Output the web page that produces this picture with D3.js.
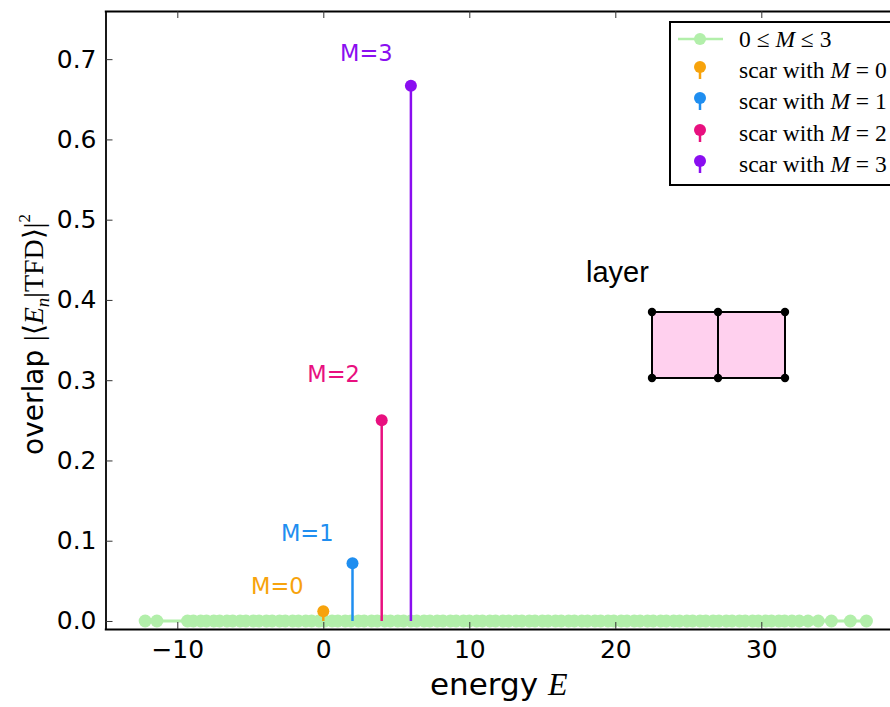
<!DOCTYPE html>
<html><head><meta charset="utf-8">
<script src="https://cdn.jsdelivr.net/npm/d3@7"></script>
<style>body{margin:0;background:#fff}svg{display:block}</style>
</head><body>
<svg id="c" width="890" height="707"></svg>
<script>
// ---- data ----
const spectrumE = [-12.2, -11.4, -9.3, -8.9, -8.4, -8.0, -7.5, -7.1, -6.6, -6.2, -5.7, -5.3, -4.8, -4.4, -3.9, -3.5, -3.0, -2.6, -2.1, -1.7, -1.2, -0.8, -0.3, 0.1, 0.6, 1.0, 1.5, 1.9, 2.4, 2.8, 3.3, 3.7, 4.2, 4.6, 5.1, 5.5, 6.0, 6.4, 6.9, 7.3, 7.8, 8.2, 8.7, 9.1, 9.6, 10.0, 10.5, 10.9, 11.4, 11.8, 12.3, 12.7, 13.2, 13.6, 14.1, 14.5, 15.0, 15.4, 15.9, 16.3, 16.8, 17.2, 17.7, 18.1, 18.6, 19.0, 19.5, 19.9, 20.4, 20.8, 21.3, 21.7, 22.2, 22.6, 23.1, 23.5, 24.0, 24.4, 24.9, 25.3, 25.8, 26.2, 26.7, 27.1, 27.6, 28.0, 28.5, 28.9, 29.4, 29.8, 30.3, 30.7, 31.2, 31.6, 32.1, 32.6, 33.2, 33.9, 34.8, 36.1, 37.2];
const spectrumOverlap = spectrumE.map(() => 0.0);
const scarM = [0, 1, 2, 3];
const scarE = [0, 2, 4, 6];
const scarOverlap = [0.012, 0.072, 0.25, 0.667];
const scarLabels = ["M=0", "M=1", "M=2", "M=3"];
const labelE = [-3.15, -1.1, 0.7, 2.95];
const labelOverlap = [0.0435, 0.109, 0.308, 0.708];
const xTicks = [-10, 0, 10, 20, 30];
const yTicks = [0.0, 0.1, 0.2, 0.3, 0.4, 0.5, 0.6, 0.7];

// ---- styles ----
const scarColors = ["#f7a30c", "#1f8ef0", "#e8107f", "#8a0ef0"];
const green = "#b2efaa";
const svg = d3.select("#c");
const L = 105.5, T = 11, B = 629, R = 907;
const x = d3.scaleLinear().domain([-15, 40]).range([104.3, 907.3]);
const y = d3.scaleLinear().domain([-0.01, 0.76]).range([B, T]);

// spectrum line + markers
const pts = spectrumE.map((e, i) => [e, spectrumOverlap[i]]);
svg.append("path").datum(pts)
  .attr("d", d3.line().x(d => x(d[0])).y(d => y(d[1])))
  .attr("fill", "none").attr("stroke", green).attr("stroke-width", 3);
svg.append("g").selectAll("circle").data(pts).join("circle")
  .attr("cx", d => x(d[0])).attr("cy", d => y(d[1])).attr("r", 6.5)
  .attr("fill", green);

// stems
const sg = svg.append("g");
scarM.forEach((m, i) => {
  sg.append("line").attr("x1", x(scarE[i])).attr("x2", x(scarE[i]))
    .attr("y1", y(0)).attr("y2", y(scarOverlap[i]))
    .attr("stroke", scarColors[i]).attr("stroke-width", 2.5);
  sg.append("circle").attr("cx", x(scarE[i])).attr("cy", y(scarOverlap[i])).attr("r", 6)
    .attr("fill", scarColors[i]);
});
// annotation labels
scarM.forEach((m, i) => {
  svg.append("text")
    .attr("x", x(labelE[i])).attr("y", y(labelOverlap[i]))
    .attr("text-anchor", "middle").attr("dominant-baseline", "central")
    .attr("font-family", "DejaVu Sans").attr("font-size", 22.5)
    .attr("fill", scarColors[i]).text(scarLabels[i]);
});

// axes
const fontAxis = g => g.selectAll("text").attr("font-family", "DejaVu Sans").attr("font-size", 25).attr("fill", "#000");
const tickStyle = g => g.selectAll(".tick line").attr("stroke", "#333").attr("stroke-width", 1);
svg.append("g").attr("transform", `translate(0,${B})`)
  .call(d3.axisBottom(x).tickValues(xTicks).tickSizeInner(-7).tickSizeOuter(0).tickPadding(11).tickFormat(d3.format("d")))
  .call(g => g.select(".domain").attr("stroke-width", 1.8))
  .call(tickStyle).call(fontAxis);
svg.append("g").attr("transform", `translate(0,${T})`)
  .call(d3.axisTop(x).tickValues(xTicks).tickSizeInner(-7).tickSizeOuter(0).tickFormat(""))
  .call(g => g.select(".domain").attr("stroke-width", 1.8)).call(tickStyle);
svg.append("g").attr("transform", `translate(${L},0)`)
  .call(d3.axisLeft(y).tickValues(yTicks).tickSizeInner(-7).tickSizeOuter(0).tickPadding(9).tickFormat(d3.format(".1f")))
  .call(g => g.select(".domain").attr("stroke-width", 1.8))
  .call(tickStyle).call(fontAxis);
svg.append("g").attr("transform", `translate(${R},0)`)
  .call(d3.axisRight(y).tickValues(yTicks).tickSizeInner(-7).tickSizeOuter(0).tickFormat(""))
  .call(g => g.select(".domain").attr("stroke-width", 1.8)).call(tickStyle);

// axis labels
const xl = svg.append("text").attr("x", 430).attr("y", 695).attr("text-anchor", "start")
  .attr("font-size", 31).attr("fill", "#000");
xl.append("tspan").attr("font-family", "DejaVu Sans").text("energy ");
xl.append("tspan").attr("font-family", "Liberation Serif").attr("font-style", "italic").attr("font-size", 32).text("E");

const yl = svg.append("text").attr("transform", "translate(43,455) rotate(-90)")
  .attr("text-anchor", "start").attr("font-size", 28).attr("fill", "#000");
yl.append("tspan").attr("font-family", "DejaVu Sans").text("overlap ");
yl.append("tspan").attr("font-family", "Liberation Serif").attr("font-size", 28).text("|⟨");
yl.append("tspan").attr("font-family", "Liberation Serif").attr("font-style", "italic").attr("font-size", 28).text("E");
yl.append("tspan").attr("font-family", "Liberation Serif").attr("font-style", "italic").attr("font-size", 19).attr("dy", 6).text("n");
yl.append("tspan").attr("font-family", "Liberation Serif").attr("font-size", 28).attr("dy", -6).text("|TFD⟩|");
yl.append("tspan").attr("font-family", "Liberation Serif").attr("font-size", 17).attr("dy", -13).text("2");

// layer inset
svg.append("text").attr("x", 586).attr("y", 282).attr("font-family", "Liberation Sans")
  .attr("font-size", 29).attr("fill", "#000").text("layer");
const cellX = [652, 718, 785], cellY = [312, 378];
const ig = svg.append("g");
for (let i = 0; i < 2; i++) {
  ig.append("rect").attr("x", cellX[i]).attr("y", cellY[0]).attr("width", cellX[i+1]-cellX[i]).attr("height", cellY[1]-cellY[0])
    .attr("fill", "#ffd0ee").attr("stroke", "#000").attr("stroke-width", 2);
}
cellX.forEach(cx => cellY.forEach(cy => ig.append("circle").attr("cx", cx).attr("cy", cy).attr("r", 4.2).attr("fill", "#000")));

// legend
const lg = svg.append("g");
lg.append("rect").attr("x", 670).attr("y", 22).attr("width", 240).attr("height", 163)
  .attr("fill", "#fff").attr("stroke", "#000").attr("stroke-width", 2);
const rowY = [39, 70, 101, 133, 164];
lg.append("line").attr("x1", 678).attr("x2", 723).attr("y1", rowY[0]).attr("y2", rowY[0]).attr("stroke", green).attr("stroke-width", 2.5);
lg.append("circle").attr("cx", 700).attr("cy", rowY[0]).attr("r", 6).attr("fill", green);
const t0 = lg.append("text").attr("x", 739).attr("y", rowY[0]).attr("dominant-baseline", "central")
  .attr("font-family", "Liberation Serif").attr("font-size", 23.5).attr("fill", "#000");
t0.append("tspan").text("0 ≤ ");
t0.append("tspan").attr("font-style", "italic").text("M");
t0.append("tspan").text(" ≤ 3");
scarM.forEach((m, i) => {
  const yy = rowY[i + 1];
  lg.append("line").attr("x1", 700).attr("x2", 700).attr("y1", yy - 3).attr("y2", yy + 9).attr("stroke", scarColors[i]).attr("stroke-width", 2.5);
  lg.append("circle").attr("cx", 700).attr("cy", yy - 3).attr("r", 6).attr("fill", scarColors[i]);
  const t = lg.append("text").attr("x", 739).attr("y", yy).attr("dominant-baseline", "central")
    .attr("font-family", "Liberation Serif").attr("font-size", 23.5).attr("fill", "#000");
  t.append("tspan").text("scar with ");
  t.append("tspan").attr("font-style", "italic").text("M");
  t.append("tspan").text(" = " + m);
});
</script>
</body></html>
